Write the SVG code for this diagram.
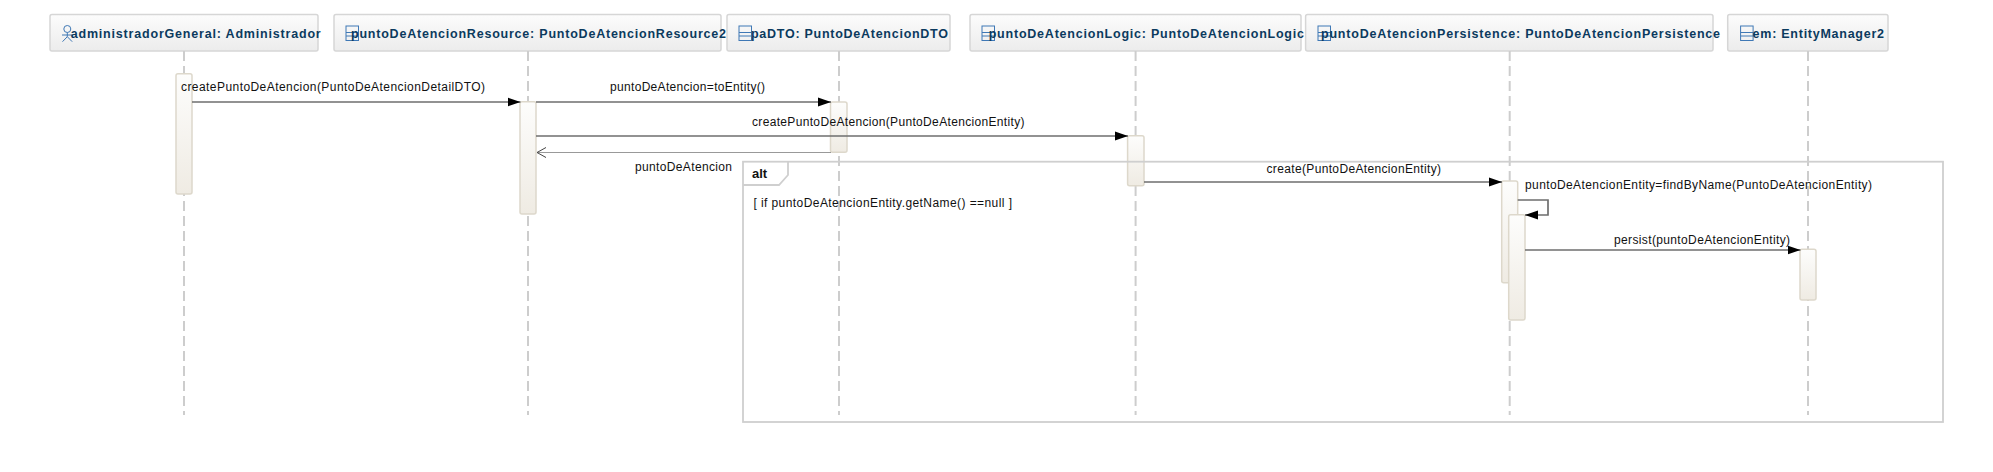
<svg xmlns="http://www.w3.org/2000/svg" width="1993" height="472" viewBox="0 0 1993 472">
<style>
text{font-family:"Liberation Sans",Arial,sans-serif;font-size:12px;fill:#111}
.h{font-weight:bold;fill:#0b3a5e;font-size:12.5px}
.b{font-weight:bold;font-size:13px}
.box{fill:url(#hg);stroke:#d6d6d6;stroke-width:1.5}
.life{stroke:#cdcdcd;stroke-width:2;stroke-dasharray:10 5;fill:none}
.act{fill:url(#ag);stroke:#ddd8cb;stroke-width:1.5}
.msg{stroke:#6e6e6e;stroke-width:1.7;fill:none}
.ret{stroke:#333;stroke-width:1;stroke-dasharray:1 1;fill:none}
.ico{fill:none;stroke:#3f78b5;stroke-width:1}
.frame{fill:none;stroke:#cfcfcf;stroke-width:1.8}
</style>
<defs>
<linearGradient id="hg" x1="0" y1="0" x2="0" y2="1"><stop offset="0" stop-color="#fcfcfc"/><stop offset="1" stop-color="#ececec"/></linearGradient>
<linearGradient id="ag" x1="0" y1="0" x2="0" y2="1"><stop offset="0" stop-color="#fdfdfc"/><stop offset="1" stop-color="#efebe3"/></linearGradient>
<marker id="fill" markerUnits="userSpaceOnUse" markerWidth="14" markerHeight="10" refX="13" refY="5" orient="auto"><path d="M0 0.5L13 5L0 9.5Z" fill="#000"/></marker>
<marker id="open" markerUnits="userSpaceOnUse" markerWidth="11" markerHeight="12" refX="10" refY="6" orient="auto"><path d="M1 1L10 6L1 11" fill="none" stroke="#444" stroke-width="1"/></marker>
<g id="cls"><rect x="0" y="0" width="12.5" height="14.5" class="ico"/><path d="M0 6.5H12.5M0 10H12.5" class="ico"/></g>
</defs>

<g id="node-administradorGeneral">
<rect class="box" x="50" y="14.5" width="268" height="36.5" rx="2"/>
<line class="life" x1="184" y1="51" x2="184" y2="415"/>
<rect class="act" x="176" y="73.7" width="16" height="120.3" rx="2"/>
<g class="ico"><circle cx="67.3" cy="29" r="3.5"/><path d="M67.3 32.5V36.7M62 35H72.5M62.5 41.7L67.3 36.7L72.2 41.7"/></g>
<text class="h" x="70.7" y="38" textLength="250">administradorGeneral: Administrador</text>
</g>

<g id="node-puntoDeAtencionResource">
<rect class="box" x="334" y="14.5" width="387" height="36.5" rx="2"/>
<line class="life" x1="528" y1="51" x2="528" y2="415"/>
<rect class="act" x="520" y="101.7" width="16" height="112.3" rx="2"/>
<use href="#cls" x="346" y="26"/>
<text class="h" x="351" y="38" textLength="375">puntoDeAtencionResource: PuntoDeAtencionResource2</text>
</g>

<g id="node-paDTO">
<rect class="box" x="727" y="14.5" width="223" height="36.5" rx="2"/>
<line class="life" x1="839" y1="51" x2="839" y2="415"/>
<rect class="act" x="830.5" y="102" width="16.5" height="50.3" rx="2"/>
<use href="#cls" x="739" y="26"/>
<text class="h" x="751" y="38" textLength="197">paDTO: PuntoDeAtencionDTO</text>
</g>

<g id="node-puntoDeAtencionLogic">
<rect class="box" x="970" y="14.5" width="331" height="36.5" rx="2"/>
<line class="life" x1="1135.6" y1="51" x2="1135.6" y2="415"/>
<rect class="act" x="1127.6" y="135.7" width="16.4" height="50" rx="2"/>
<use href="#cls" x="982" y="26"/>
<text class="h" x="988.7" y="38" textLength="315.3">puntoDeAtencionLogic: PuntoDeAtencionLogic</text>
</g>

<g id="node-puntoDeAtencionPersistence">
<rect class="box" x="1305.6" y="14.5" width="407.4" height="36.5" rx="2"/>
<line class="life" x1="1509.7" y1="51" x2="1509.7" y2="415"/>
<rect class="act" x="1501.7" y="181" width="16" height="101.7" rx="2"/>
<rect class="act" x="1508.7" y="214.7" width="16.3" height="105.3" rx="2"/>
<use href="#cls" x="1318" y="26"/>
<text class="h" x="1321" y="38" textLength="399">puntoDeAtencionPersistence: PuntoDeAtencionPersistence</text>
</g>

<g id="node-em">
<rect class="box" x="1727.7" y="14.5" width="160.3" height="36.5" rx="2"/>
<line class="life" x1="1808" y1="51" x2="1808" y2="415"/>
<rect class="act" x="1800" y="249.3" width="16" height="50.7" rx="2"/>
<use href="#cls" x="1740.6" y="26"/>
<text class="h" x="1752.6" y="38" textLength="131.4">em: EntityManager2</text>
</g>

<g id="node-alt">
<rect class="frame" x="743" y="161.7" width="1200" height="260.3"/>
<path class="frame" d="M743 185H779L788 175V161.7"/>
<text class="b" x="752" y="178">alt</text>
<text x="753.4" y="207" textLength="258.6">[ if puntoDeAtencionEntity.getName() ==null ]</text>
</g>

<g id="connectors">
<line class="msg" x1="192" y1="102" x2="520.5" y2="102" marker-end="url(#fill)"/>
<line class="msg" x1="536" y1="102" x2="831" y2="102" marker-end="url(#fill)"/>
<line class="msg" x1="536" y1="136" x2="1128" y2="136" marker-end="url(#fill)"/>
<line class="ret" x1="830.5" y1="152.5" x2="537" y2="152.5" marker-end="url(#open)"/>
<line class="msg" x1="1144" y1="182" x2="1502" y2="182" marker-end="url(#fill)"/>
<path class="msg" d="M1517.7 200H1548V215H1525" marker-end="url(#fill)"/>
<line class="msg" x1="1525" y1="250" x2="1800.5" y2="250" marker-end="url(#fill)"/>
</g>

<g id="labels">
<text x="181" y="90.7" textLength="304">createPuntoDeAtencion(PuntoDeAtencionDetailDTO)</text>
<text x="610" y="91" textLength="155">puntoDeAtencion=toEntity()</text>
<text x="752" y="125.7" textLength="272.5">createPuntoDeAtencion(PuntoDeAtencionEntity)</text>
<text x="635" y="170.7" textLength="97">puntoDeAtencion</text>
<text x="1266.5" y="172.7" textLength="174.5">create(PuntoDeAtencionEntity)</text>
<text x="1525" y="189" textLength="347">puntoDeAtencionEntity=findByName(PuntoDeAtencionEntity)</text>
<text x="1614" y="244" textLength="176">persist(puntoDeAtencionEntity)</text>
</g>
</svg>
